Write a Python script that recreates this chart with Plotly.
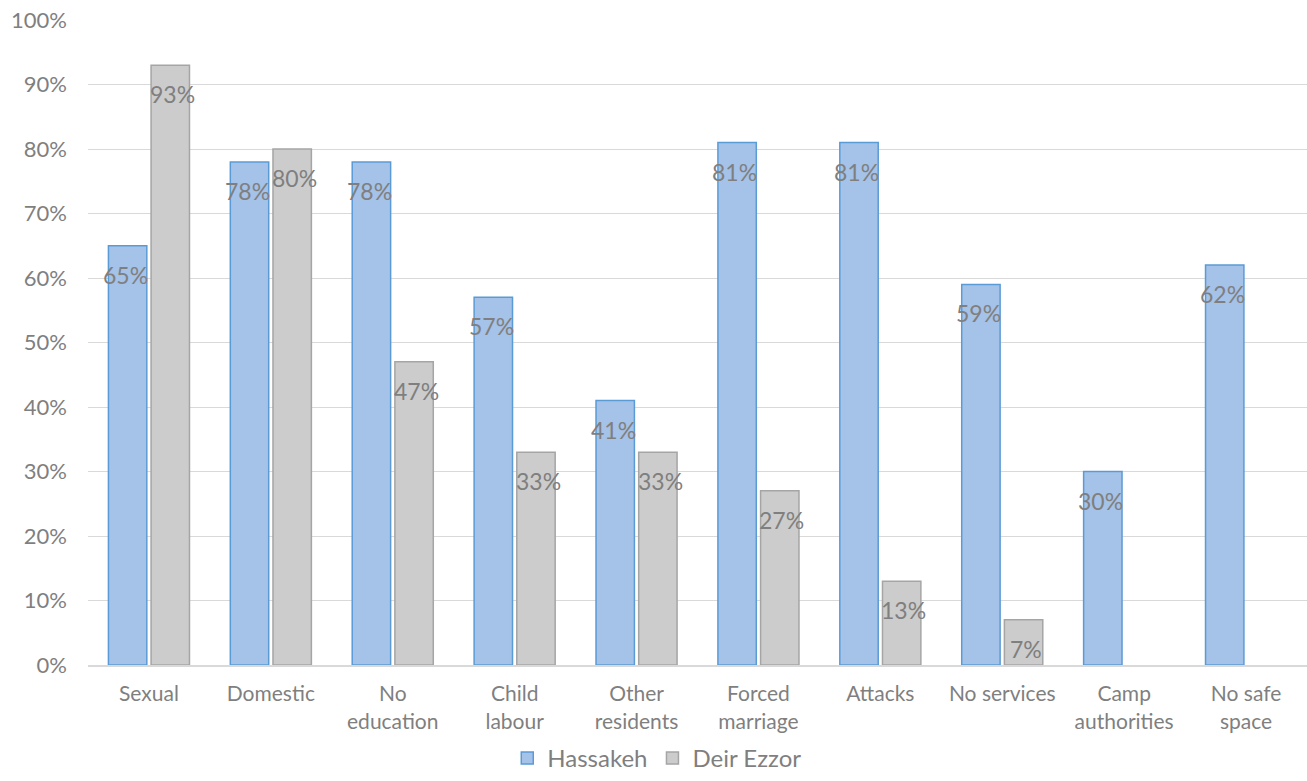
import plotly.graph_objects as go

categories = ["Sexual", "Domestic", "No<br>education", "Child<br>labour", "Other<br>residents",
              "Forced<br>marriage", "Attacks", "No services", "Camp<br>authorities", "No safe<br>space"]
hassakeh = [65, 78, 78, 57, 41, 81, 81, 59, 30, 62]
deir_ezzor = [93, 80, 47, 33, 33, 27, 13, 7, None, None]
series_names = ["Hassakeh", "Deir Ezzor"]
y_ticks = [0, 10, 20, 30, 40, 50, 60, 70, 80, 90, 100]

FONT = "Lato"
TXT = "#7f7f7f"

fig = go.Figure()
fig.add_trace(go.Bar(
    name=series_names[0], x=categories, y=hassakeh,
    marker=dict(color="#a5c2e8", line=dict(color="#5b9bd5", width=1.5)),
    hoverinfo="skip",
))
fig.add_trace(go.Bar(
    name=series_names[1], x=categories, y=deir_ezzor,
    marker=dict(color="#cccccc", line=dict(color="#a5a5a5", width=1.5)),
    hoverinfo="skip",
))

# data labels (inside end, overflowing the narrow bars like the original)
for vals, shift in ((hassakeh, -23.5), (deir_ezzor, 23.5)):
    for c, v in zip(categories, vals):
        if v is None:
            continue
        fig.add_annotation(x=c, y=v, text=f"{v}%", showarrow=False,
                           xshift=shift, yshift=-29, yanchor="middle",
                           font=dict(family=FONT, size=23, color=TXT))

fig.update_layout(
    width=1307, height=781,
    margin=dict(l=88, r=0, t=20, b=116),
    paper_bgcolor="white", plot_bgcolor="white",
    barmode="group", bargap=0.30, bargroupgap=0.1,
    font=dict(family=FONT, size=22, color=TXT),
    legend=dict(orientation="h", x=0.467, xanchor="center",
                yref="container", y=0.0, yanchor="bottom",
                font=dict(family=FONT, size=24, color=TXT), itemwidth=30,
                traceorder="normal"),
    showlegend=True,
)
fig.update_yaxes(range=[0, 100], tickvals=y_ticks, ticktext=[f"{t}%" for t in y_ticks],
                 showgrid=True, gridcolor="#d9d9d9", gridwidth=1.3, zeroline=False,
                 showline=False, ticklabelstandoff=20, automargin=False,
                 tickfont=dict(family=FONT, size=22, color=TXT))
fig.update_xaxes(showline=True, linecolor="#d9d9d9", linewidth=2, ticks="",
                 ticklabelstandoff=9, automargin=False,
                 tickfont=dict(family=FONT, size=21, color=TXT))

post = (
    "document.documentElement.style.margin='0';"
    "document.body.style.margin='0';"
    "document.documentElement.style.overflow='hidden';"
    "document.body.style.overflow='hidden';"
    "var d=document.getElementById('{plot_id}');"
    "d.style.position='fixed';d.style.left='0px';d.style.top='0px';"
)
fig.write_html("out.html", config={"displayModeBar": False}, post_script=post)
